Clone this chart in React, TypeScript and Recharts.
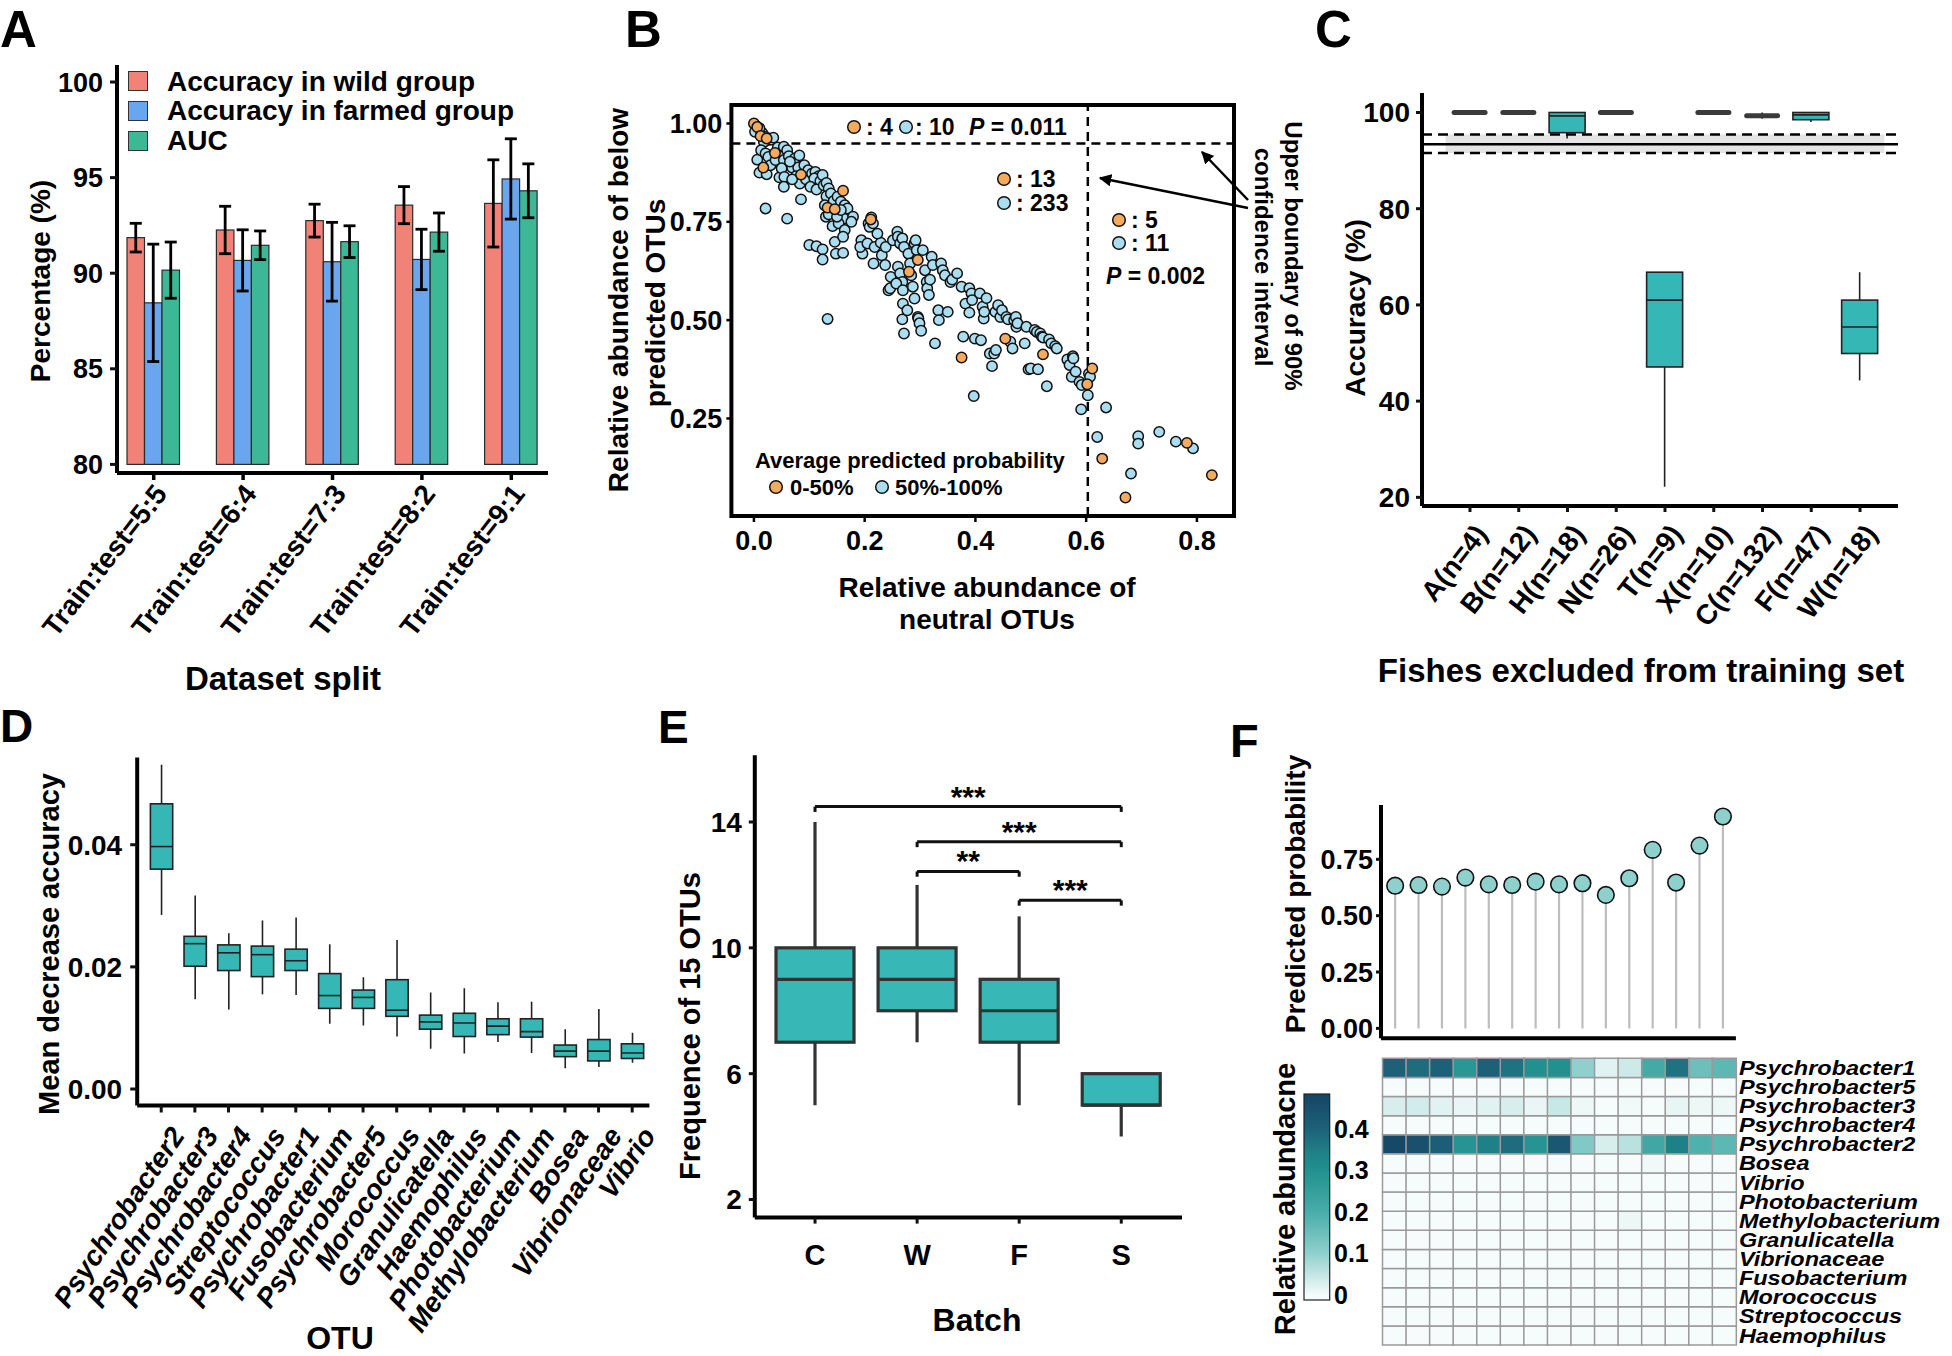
import React from 'react';
import {
  BarChart, Bar, XAxis, YAxis, ErrorBar, Legend, ScatterChart, Scatter,
  ReferenceLine, ReferenceArea, Cell,
} from 'recharts';

const FONT = "'Liberation Sans', Arial, Helvetica, sans-serif";
const TEAL = '#35B8B5';
const ORANGE = '#F4AB5E';
const SKY = '#AADDF0';

// ---------- A: accuracy per train/test split
const splits = ['Train:test=5:5', 'Train:test=6:4', 'Train:test=7:3', 'Train:test=8:2', 'Train:test=9:1'];
const seriesNames = ['Accuracy in wild group', 'Accuracy in farmed group', 'AUC'];
const wildAcc = [91.86, 92.26, 92.75, 93.56, 93.65];
const wildSd = [0.75, 1.24, 0.86, 0.97, 2.28];
const farmedAcc = [88.45, 90.67, 90.6, 90.72, 94.93];
const farmedSd = [3.07, 1.6, 2.06, 1.58, 2.1];
const aucValues = [90.16, 91.46, 91.65, 92.15, 94.31];
const aucSd = [1.47, 0.75, 0.83, 1.0, 1.41];
const percentTicks = [80, 85, 90, 95, 100];

// ---------- B: neutral vs below-predicted OTUs
const neutralTicks = [0, 0.2, 0.4, 0.6, 0.8];
const belowTicks = [0.25, 0.5, 0.75, 1.0];
const ciUpper = 0.949;
const neutralCut = 0.603;
// average predicted probability 0-50%
const lowProbOtus = [
  [0.0, 1.0], [0.006, 0.991], [0.012, 0.968], [0.023, 0.962], [0.038, 0.925], [0.017, 0.888],
  [0.085, 0.87], [0.161, 0.829], [0.133, 0.786], [0.146, 0.782], [0.211, 0.756], [0.296, 0.653],
  [0.28, 0.623], [0.454, 0.453], [0.375, 0.405], [0.522, 0.413], [0.611, 0.377], [0.602, 0.337],
  [0.629, 0.148], [0.671, 0.049], [0.782, 0.188], [0.827, 0.106],
];
// average predicted probability 50%-100%
const highProbOtus = [
  [0.004, 0.994], [0.008, 0.985], [0.002, 0.979], [0.015, 0.976], [0.021, 0.966], [0.026, 0.958],
  [0.032, 0.959], [0.035, 0.964], [0.01, 0.988], [0.018, 0.953], [0.006, 0.908], [0.013, 0.932],
  [0.021, 0.924], [0.026, 0.915], [0.01, 0.875], [0.023, 0.871], [0.03, 0.894], [0.039, 0.907],
  [0.046, 0.928], [0.046, 0.863], [0.021, 0.784], [0.043, 0.939],
  [0.054, 0.941], [0.06, 0.932], [0.054, 0.907], [0.063, 0.917], [0.069, 0.888], [0.05, 0.886],
  [0.055, 0.864], [0.054, 0.839], [0.06, 0.758], [0.074, 0.911], [0.082, 0.919], [0.08, 0.888],
  [0.076, 0.866], [0.083, 0.847], [0.085, 0.807], [0.091, 0.894], [0.094, 0.858], [0.098, 0.881],
  [0.1, 0.691], [0.069, 0.858], [0.065, 0.903],
  [0.105, 0.873], [0.111, 0.877], [0.117, 0.866], [0.109, 0.86], [0.12, 0.854], [0.124, 0.869],
  [0.102, 0.839], [0.113, 0.832], [0.126, 0.843], [0.131, 0.849], [0.135, 0.835], [0.131, 0.815],
  [0.139, 0.822], [0.113, 0.688], [0.124, 0.68], [0.124, 0.654], [0.133, 0.503], [0.128, 0.792],
  [0.13, 0.763], [0.144, 0.803], [0.146, 0.78], [0.142, 0.739], [0.146, 0.699], [0.148, 0.669],
  [0.135, 0.769],
  [0.151, 0.814], [0.157, 0.801], [0.164, 0.792], [0.169, 0.784], [0.163, 0.758], [0.153, 0.746],
  [0.164, 0.729], [0.161, 0.712], [0.161, 0.671], [0.15, 0.763], [0.157, 0.78], [0.179, 0.763],
  [0.176, 0.75], [0.194, 0.703], [0.196, 0.669], [0.192, 0.686],
  [0.207, 0.746], [0.209, 0.737], [0.212, 0.761], [0.215, 0.746], [0.216, 0.644], [0.205, 0.695],
  [0.218, 0.686], [0.229, 0.697], [0.231, 0.665], [0.223, 0.72], [0.238, 0.686], [0.243, 0.576],
  [0.246, 0.581], [0.247, 0.61], [0.237, 0.64], [0.251, 0.703],
  [0.259, 0.725], [0.26, 0.712], [0.264, 0.695], [0.268, 0.708], [0.271, 0.686], [0.26, 0.636],
  [0.264, 0.619], [0.268, 0.597], [0.257, 0.593], [0.269, 0.576], [0.269, 0.542], [0.268, 0.502],
  [0.271, 0.466], [0.277, 0.525], [0.279, 0.669], [0.282, 0.644], [0.284, 0.614], [0.287, 0.585],
  [0.29, 0.555], [0.29, 0.695], [0.292, 0.703], [0.296, 0.508], [0.297, 0.504], [0.299, 0.492],
  [0.302, 0.473], [0.294, 0.678],
  [0.305, 0.678], [0.309, 0.627], [0.312, 0.597], [0.313, 0.581], [0.318, 0.603], [0.321, 0.661],
  [0.323, 0.64], [0.316, 0.564], [0.327, 0.441], [0.333, 0.525], [0.334, 0.5], [0.338, 0.644],
  [0.341, 0.627], [0.345, 0.614], [0.35, 0.521],
  [0.355, 0.597], [0.358, 0.603], [0.367, 0.619], [0.375, 0.585], [0.378, 0.458], [0.382, 0.542],
  [0.389, 0.581], [0.393, 0.568], [0.389, 0.519], [0.394, 0.551], [0.397, 0.307], [0.399, 0.453],
  [0.408, 0.568], [0.413, 0.534], [0.415, 0.504], [0.416, 0.521], [0.41, 0.449], [0.42, 0.556],
  [0.426, 0.415], [0.43, 0.383], [0.434, 0.415], [0.436, 0.521], [0.437, 0.424], [0.441, 0.538],
  [0.445, 0.508], [0.448, 0.525],
  [0.456, 0.508], [0.459, 0.502], [0.463, 0.445], [0.467, 0.428], [0.47, 0.5], [0.473, 0.508],
  [0.474, 0.483], [0.476, 0.492], [0.489, 0.441], [0.492, 0.483], [0.496, 0.375], [0.5, 0.377],
  [0.507, 0.475], [0.511, 0.47], [0.513, 0.375], [0.517, 0.466], [0.52, 0.458], [0.522, 0.456],
  [0.529, 0.332], [0.533, 0.451], [0.537, 0.441], [0.544, 0.434], [0.547, 0.428],
  [0.566, 0.4], [0.57, 0.386], [0.576, 0.408], [0.577, 0.403], [0.574, 0.356], [0.581, 0.369],
  [0.588, 0.343], [0.591, 0.273], [0.592, 0.335], [0.603, 0.309], [0.605, 0.364], [0.607, 0.356],
  [0.62, 0.203], [0.636, 0.278],
  [0.681, 0.11], [0.694, 0.205], [0.694, 0.186], [0.732, 0.216], [0.762, 0.191], [0.793, 0.174],
];

// ---------- C: leave-one-fish-out accuracy
const fishGroups = ['A(n=4)', 'B(n=12)', 'H(n=18)', 'N(n=26)', 'T(n=9)', 'X(n=10)', 'C(n=132)', 'F(n=47)', 'W(n=18)'];
const fishMin = [100, 100, 94.6, 100, 22.2, 100, 98.7, 98.0, 44.3];
const fishQ1 = [100, 100, 95.8, 100, 47.1, 100, 99.0, 98.5, 49.9];
const fishMedian = [100, 100, 99.3, 100, 61.0, 100, 99.3, 99.5, 55.4];
const fishQ3 = [100, 100, 100, 100, 66.8, 100, 99.6, 100, 61.0];
const fishMax = [100, 100, 100, 100, 66.8, 100, 100, 100, 66.8];
const accuracyTicks = [20, 40, 60, 80, 100];
const overallAcc = 93.4;
const overallLow = 91.6;
const overallHigh = 95.4;

// ---------- D: importance of 15 OTUs
const otuNames = ['Psychrobacter2', 'Psychrobacter3', 'Psychrobacter4', 'Streptococcus', 'Psychrobacter1', 'Fusobacterium', 'Psychrobacter5', 'Morococcus', 'Granulicatella', 'Haemophilus', 'Photobacterium', 'Methylobacterium', 'Bosea', 'Vibrionaceae', 'Vibrio'];
const mdaMin = [0.0285, 0.0147, 0.013, 0.0155, 0.0154, 0.0107, 0.0104, 0.0086, 0.0066, 0.0058, 0.0077, 0.0059, 0.0034, 0.0036, 0.0043];
const mdaQ1 = [0.036, 0.0201, 0.0194, 0.0184, 0.0194, 0.0132, 0.0132, 0.0119, 0.0098, 0.0086, 0.0089, 0.0085, 0.0053, 0.0046, 0.005];
const mdaMedian = [0.0397, 0.0238, 0.0223, 0.022, 0.021, 0.0153, 0.015, 0.0129, 0.011, 0.0108, 0.0103, 0.0094, 0.0062, 0.0062, 0.0059];
const mdaQ3 = [0.0467, 0.025, 0.0236, 0.0234, 0.0229, 0.0189, 0.0162, 0.0179, 0.0121, 0.0124, 0.0115, 0.0115, 0.0072, 0.0081, 0.0074];
const mdaMax = [0.0531, 0.0317, 0.0255, 0.0276, 0.0281, 0.0237, 0.0183, 0.0244, 0.0158, 0.0165, 0.0142, 0.0143, 0.0098, 0.0131, 0.0092];
const mdaTicks = [0, 0.02, 0.04];

// ---------- E: frequency of the 15 OTUs per batch
const batches = ['C', 'W', 'F', 'S'];
const freqMin = [5, 7, 5, 4];
const freqQ1 = [7, 8, 7, 5];
const freqMedian = [9, 9, 8, 5];
const freqQ3 = [10, 10, 9, 6];
const freqMax = [14, 12, 11, 6];
const freqTicks = [2, 6, 10, 14];
const comparisons: [string, string, number, string][] = [
  ['C', 'S', 14.49, '***'],
  ['W', 'S', 13.37, '***'],
  ['W', 'F', 12.43, '**'],
  ['F', 'S', 11.51, '***'],
];

// ---------- F: predicted probability and abundance of 15 samples
const samples = ['s1', 's2', 's3', 's4', 's5', 's6', 's7', 's8', 's9', 's10', 's11', 's12', 's13', 's14', 's15'];
const predictedProb = [0.633, 0.636, 0.629, 0.669, 0.639, 0.636, 0.651, 0.639, 0.644, 0.592, 0.666, 0.792, 0.647, 0.811, 0.94];
const probTicks = [0, 0.25, 0.5, 0.75];
const abundPsychrobacter1 = [0.4, 0.38, 0.4, 0.28, 0.4, 0.37, 0.3, 0.3, 0.1, 0.02, 0.04, 0.21, 0.37, 0.15, 0.17];
const abundPsychrobacter2 = [0.47, 0.45, 0.41, 0.29, 0.34, 0.38, 0.29, 0.43, 0.12, 0.03, 0.06, 0.22, 0.34, 0.19, 0.17];
const abundPsychrobacter3 = [0.03, 0.035, 0.02, 0.012, 0.02, 0.03, 0.012, 0.045, 0.008, 0, 0.005, 0, 0.015, 0.01, 0.008];
const abundBosea = [0, 0, 0, 0, 0, 0, 0, 0, 0, 0, 0, 0.006, 0, 0, 0];
const abundMethylobacterium = [0, 0, 0, 0, 0, 0, 0, 0, 0, 0, 0.01, 0, 0, 0, 0];
const abundNone = [0, 0, 0, 0, 0, 0, 0, 0, 0, 0, 0, 0, 0, 0, 0];
const heatOtus = ['Psychrobacter1', 'Psychrobacter5', 'Psychrobacter3', 'Psychrobacter4', 'Psychrobacter2', 'Bosea', 'Vibrio', 'Photobacterium', 'Methylobacterium', 'Granulicatella', 'Vibrionaceae', 'Fusobacterium', 'Morococcus', 'Streptococcus', 'Haemophilus'];
const heatAbund = [abundPsychrobacter1, abundNone, abundPsychrobacter3, abundNone, abundPsychrobacter2, abundBosea, abundNone, abundNone, abundMethylobacterium, abundNone, abundNone, abundNone, abundNone, abundNone, abundNone];
const abundTicks = [0, 0.1, 0.2, 0.3, 0.4];

const HEAT_STOPS: [number, string][] = [
  [0, '#f6fbfb'], [0.1, '#8fd0cd'], [0.2, '#48ada9'], [0.3, '#21918f'],
  [0.35, '#1f7d86'], [0.4, '#1d6179'], [0.48, '#154665'],
];
function heatColor(v: number) {
  const hex = (c: string) => [1, 3, 5].map((i) => parseInt(c.slice(i, i + 2), 16));
  if (v <= HEAT_STOPS[0][0]) return HEAT_STOPS[0][1];
  for (let i = 1; i < HEAT_STOPS.length; i++) {
    const [v1, c1] = HEAT_STOPS[i];
    if (v <= v1) {
      const [v0, c0] = HEAT_STOPS[i - 1];
      const t = (v - v0) / (v1 - v0);
      const a = hex(c0), b = hex(c1);
      return `rgb(${a.map((x, k) => Math.round(x + (b[k] - x) * t)).join(',')})`;
    }
  }
  return HEAT_STOPS[HEAT_STOPS.length - 1][1];
}

const tickFont = (size: number, italic = false) => ({
  fontSize: size, fontWeight: 700, fill: '#000', fontFamily: FONT, fontStyle: italic ? 'italic' : 'normal',
});
const axisLine = { stroke: '#000', strokeWidth: 4 };
const tickLine = { stroke: '#111', strokeWidth: 3 };

function SlantTick(props: any) {
  const { x, y, payload, angle, size, dx, dy, italic } = props;
  const ax = x + dx;
  const ay = y + dy;
  return (
    <text x={ax} y={ay} transform={`rotate(${-angle} ${ax} ${ay})`} textAnchor="end" dominantBaseline="hanging"
      fontSize={size} fontWeight={700} fontStyle={italic ? 'italic' : 'normal'} fontFamily={FONT} fill="#000">
      {payload.value}
    </text>
  );
}

// row names of the heatmap are set wide and short, as in the figure
function RowTick(props: any) {
  const { x, y, payload, tickFormatter } = props;
  const label = tickFormatter ? tickFormatter(payload.value) : payload.value;
  return (
    <g transform={`translate(${x + 3} ${y})`}>
      <text transform="scale(1.12 1)" dominantBaseline="central" fontSize={21} fontWeight={700} fontStyle="italic" fontFamily={FONT} fill="#000">
        {label}
      </text>
    </g>
  );
}

// box + whiskers drawn inside the [min, max] range bar given by the library
function boxShape(fill: string, stroke: string, lineW: number, whiskerW: number) {
  return (props: any) => {
    const { x, y, width, height, payload } = props;
    if (x == null || payload == null) return <g />;
    const top = Math.min(y, y + height);
    const span = Math.abs(height);
    const lo = payload.min;
    const hi = payload.max;
    const px = (v: number) => (hi === lo ? top : top + ((hi - v) / (hi - lo)) * span);
    const cx = x + width / 2;
    const yMax = px(hi), yMin = px(lo), yQ3 = px(payload.q3), yQ1 = px(payload.q1), yMed = px(payload.med);
    const flat = yQ1 - yQ3 < 3;
    return (
      <g>
        {yQ3 - yMax > 0.5 && <line x1={cx} x2={cx} y1={yMax} y2={yQ3} stroke={stroke} strokeWidth={whiskerW} />}
        {yMin - yQ1 > 0.5 && <line x1={cx} x2={cx} y1={yQ1} y2={yMin} stroke={stroke} strokeWidth={whiskerW} />}
        {flat ? (
          <rect x={x} y={yMed - 2.5} width={width} height={5} rx={2.5} fill="#3a3a3a" />
        ) : (
          <g>
            <rect x={x} y={yQ3} width={width} height={yQ1 - yQ3} fill={fill} stroke={stroke} strokeWidth={lineW} />
            <line x1={x} x2={x + width} y1={yMed} y2={yMed} stroke={stroke} strokeWidth={lineW} />
          </g>
        )}
      </g>
    );
  };
}

const boxRange = (d: any) => [d.min, d.max];

// ---------------- Panel A
const A_DOMAIN: [number, number] = [79.55, 100.89];
const A_BASE = 80;
const splitTable = splits.map((split, i) => ({
  split, wild: wildAcc[i], wildSd: wildSd[i], farmed: farmedAcc[i], farmedSd: farmedSd[i], auc: aucValues[i], aucSd: aucSd[i],
}));
function fromBase(props: any) {
  const { x, y, width, height, value, fill } = props;
  const v = Array.isArray(value) ? value[1] : value;
  const k = height / (v - A_DOMAIN[0]);
  const h = height - (A_BASE - A_DOMAIN[0]) * k;
  return <rect x={x} y={y} width={width} height={Math.max(h, 0)} fill={fill} stroke="#2b2b2b" strokeWidth={1.2} />;
}
function PanelA() {
  return (
    <div style={{ position: 'absolute', left: 0, top: 0 }}>
      <BarChart width={640} height={700} data={splitTable} margin={{ top: 65, right: 92, bottom: 0, left: 0 }} barGap={0} barSize={17.5}>
        <XAxis dataKey="split" height={227} padding={{ left: -8, right: -8 }} axisLine={axisLine} tickLine={{ stroke: '#000', strokeWidth: 3.5 }}
          tickSize={7} tickMargin={0} interval={0}
          tick={(p: any) => <SlantTick {...p} angle={52} size={28} dx={-1} dy={2} />} />
        <YAxis width={117} domain={A_DOMAIN} ticks={percentTicks} allowDataOverflow axisLine={axisLine} tickLine={tickLine}
          tickSize={7} tickMargin={7} tick={tickFont(27)} />
        <Legend layout="vertical" align="center" verticalAlign="middle"
          wrapperStyle={{ left: 128, top: 66.6, width: 420 }}
          content={(p: any) => (
            <div>
              {[...(p.payload || [])]
                .sort((a: any, b: any) => seriesNames.indexOf(a.value) - seriesNames.indexOf(b.value))
                .map((e: any) => (
                  <div key={e.value} style={{ display: 'flex', alignItems: 'center', height: 29.7 }}>
                    <span style={{ width: 20, height: 20, background: e.color, border: '1.5px solid #333', boxSizing: 'border-box', marginRight: 19 }} />
                    <span style={{ fontSize: 28, fontWeight: 700, fontFamily: FONT, lineHeight: '29.7px', whiteSpace: 'nowrap', color: '#000' }}>{e.value}</span>
                  </div>
                ))}
            </div>
          )} />
        <Bar dataKey="wild" name={seriesNames[0]} fill="#F08278" shape={fromBase} isAnimationActive={false}>
          <ErrorBar dataKey="wildSd" width={6} strokeWidth={2.8} stroke="#000" />
        </Bar>
        <Bar dataKey="farmed" name={seriesNames[1]} fill="#6AA6EE" shape={fromBase} isAnimationActive={false}>
          <ErrorBar dataKey="farmedSd" width={6} strokeWidth={2.8} stroke="#000" />
        </Bar>
        <Bar dataKey="auc" name={seriesNames[2]} fill="#3DB896" shape={fromBase} isAnimationActive={false}>
          <ErrorBar dataKey="aucSd" width={6} strokeWidth={2.8} stroke="#000" />
        </Bar>
      </BarChart>
    </div>
  );
}

// ---------------- Panel B
const B_XDOM: [number, number] = [-0.0407, 0.867];
const B_YDOM: [number, number] = [0.002, 1.047];
const lowTable = lowProbOtus.map(([x, y]) => ({ x, y }));
const highTable = highProbOtus.map(([x, y]) => ({ x, y }));
const dot = (fill: string) => (p: any) => <circle cx={p.cx} cy={p.cy} r={5.2} fill={fill} stroke="#111" strokeWidth={1.5} />;
function PanelB() {
  return (
    <div style={{ position: 'absolute', left: 600, top: 90 }}>
      <ScatterChart width={660} height={560} margin={{ top: 15, right: 26, bottom: 0, left: 0 }}>
        <XAxis type="number" dataKey="x" domain={B_XDOM} ticks={neutralTicks} allowDataOverflow height={134}
          tickFormatter={(v: number) => v.toFixed(1)} axisLine={false} tickLine={{ stroke: '#000', strokeWidth: 2.5 }}
          tickSize={6} tickMargin={9} tick={tickFont(27)} />
        <YAxis type="number" dataKey="y" domain={B_YDOM} ticks={belowTicks} allowDataOverflow width={131.4}
          tickFormatter={(v: number) => v.toFixed(2)} axisLine={false} tickLine={{ stroke: '#000', strokeWidth: 2.5 }}
          tickSize={5} tickMargin={4} tick={tickFont(27)} />
        <ReferenceLine y={ciUpper} stroke="#000" strokeWidth={2.5} strokeDasharray="9 6" />
        <ReferenceLine x={neutralCut} stroke="#000" strokeWidth={2.5} strokeDasharray="9 6" />
        <Scatter data={highTable} shape={dot(SKY)} isAnimationActive={false} />
        <Scatter data={lowTable} shape={dot(ORANGE)} isAnimationActive={false} />
        <ReferenceArea x1={B_XDOM[0]} x2={B_XDOM[1]} y1={B_YDOM[0]} y2={B_YDOM[1]} fill="none" fillOpacity={0} stroke="#000" strokeWidth={4} />
      </ScatterChart>
    </div>
  );
}

// ---------------- Panel C
const fishTable = fishGroups.map((g, i) => ({ g, min: fishMin[i], q1: fishQ1[i], med: fishMedian[i], q3: fishQ3[i], max: fishMax[i] }));
function PanelC() {
  return (
    <div style={{ position: 'absolute', left: 1305, top: 60 }}>
      <BarChart width={640} height={680} data={fishTable} margin={{ top: 33, right: 47, bottom: 0, left: 0 }} barSize={36}>
        <XAxis dataKey="g" height={234} padding={{ left: 23.6, right: 13.6 }} axisLine={axisLine} tickLine={tickLine}
          tickSize={6} tickMargin={0} interval={0}
          tick={(p: any) => <SlantTick {...p} angle={52} size={28} dx={3} dy={10} />} />
        <YAxis width={117} domain={[18.2, 104.05]} ticks={accuracyTicks} allowDataOverflow axisLine={axisLine} tickLine={tickLine}
          tickSize={6} tickMargin={6} tick={tickFont(28)} />
        <ReferenceArea y1={overallLow} y2={overallHigh} fill="#e4e4e4" fillOpacity={1} stroke="none" />
        <ReferenceLine y={overallAcc} stroke="#000" strokeWidth={2.5} />
        <ReferenceLine y={overallHigh} stroke="#000" strokeWidth={2.5} strokeDasharray="10 6" />
        <ReferenceLine y={overallLow} stroke="#000" strokeWidth={2.5} strokeDasharray="10 6" />
        <Bar dataKey={boxRange} shape={boxShape(TEAL, '#222', 1.6, 1.6)} isAnimationActive={false} />
      </BarChart>
    </div>
  );
}

// ---------------- Panel D
const otuTable = otuNames.map((g, i) => ({ g, min: mdaMin[i], q1: mdaQ1[i], med: mdaMedian[i], q3: mdaQ3[i], max: mdaMax[i] }));
function PanelD() {
  return (
    <div style={{ position: 'absolute', left: 0, top: 700 }}>
      <BarChart width={670} height={656} data={otuTable} margin={{ top: 57.4, right: 20.6, bottom: 0, left: 0 }} barSize={22.3}>
        <XAxis dataKey="g" height={250.5} padding={{ left: 7.2, right: 0.4 }} axisLine={axisLine} tickLine={tickLine}
          tickSize={7} tickMargin={0} interval={0}
          tick={(p: any) => <SlantTick {...p} angle={56} size={28} dx={8} dy={12} italic />} />
        <YAxis width={137.2} domain={[-0.0027, 0.0543]} ticks={mdaTicks} allowDataOverflow axisLine={axisLine} tickLine={tickLine}
          tickSize={7} tickMargin={8} tick={tickFont(28)} tickFormatter={(v: number) => v.toFixed(2)} />
        <Bar dataKey={boxRange} shape={boxShape(TEAL, '#222', 1.6, 1.6)} isAnimationActive={false} />
      </BarChart>
    </div>
  );
}

// ---------------- Panel E
const batchTable = batches.map((g, i) => ({ g, min: freqMin[i], q1: freqQ1[i], med: freqMedian[i], q3: freqQ3[i], max: freqMax[i] }));
const TIP = 0.17;
function PanelE() {
  return (
    <div style={{ position: 'absolute', left: 660, top: 700 }}>
      <BarChart width={540} height={656} data={batchTable} margin={{ top: 55.3, right: 18, bottom: 0, left: 0 }} barSize={78}>
        <XAxis dataKey="g" height={138.4} padding={{ left: 9.2, right: 9.7 }} axisLine={axisLine} tickLine={tickLine}
          tickSize={6} tickMargin={21} tick={tickFont(29)} interval={0} />
        <YAxis width={94.8} domain={[1.425, 16.12]} ticks={freqTicks} allowDataOverflow axisLine={axisLine} tickLine={tickLine}
          tickSize={6} tickMargin={7} tick={tickFont(28)} />
        <Bar dataKey={boxRange} shape={boxShape('#37B8B7', '#333', 3.2, 3.2)} isAnimationActive={false} />
        {comparisons.map(([a, b, h, stars]) => (
          <ReferenceLine key={a + b} segment={[{ x: a, y: h }, { x: b, y: h }]} stroke="#111" strokeWidth={3}
            label={{ value: stars, position: 'top', offset: 0, fontSize: 30, fontWeight: 700, fill: '#000', fontFamily: FONT }} />
        ))}
        {comparisons.map(([a, , h]) => (
          <ReferenceLine key={'l' + a + h} segment={[{ x: a, y: h }, { x: a, y: h - TIP }]} stroke="#111" strokeWidth={3} />
        ))}
        {comparisons.map(([, b, h]) => (
          <ReferenceLine key={'r' + b + h} segment={[{ x: b, y: h }, { x: b, y: h - TIP }]} stroke="#111" strokeWidth={3} />
        ))}
      </BarChart>
    </div>
  );
}

// ---------------- Panel F
const probTable = samples.map((s, i) => ({ s, p: predictedProb[i] }));
function lollipop(props: any) {
  const { x, y, width, height } = props;
  const cx = x + width / 2;
  return (
    <g>
      <line x1={cx} x2={cx} y1={y} y2={y + height} stroke="#bdbdbd" strokeWidth={2.2} />
      <circle cx={cx} cy={y} r={8.3} fill="#8ED0CC" stroke="#111" strokeWidth={1.6} />
    </g>
  );
}
function PanelFTop() {
  return (
    <div style={{ position: 'absolute', left: 1220, top: 720 }}>
      <BarChart width={730} height={330} data={probTable} margin={{ top: 85, right: 214.1, bottom: 0, left: 0 }}>
        <XAxis dataKey="s" height={11.7} padding={{ left: 2.3, right: 1.4 }} axisLine={axisLine}
          tickLine={{ stroke: '#000', strokeWidth: 2.5 }} tickSize={6} tick={false} interval={0} />
        <YAxis width={161} domain={[-0.044, 0.991]} ticks={probTicks} allowDataOverflow axisLine={axisLine} tickLine={tickLine}
          tickSize={5} tickMargin={3} tick={tickFont(27)} tickFormatter={(v: number) => v.toFixed(2)} />
        <Bar dataKey="p" shape={lollipop} isAnimationActive={false} />
      </BarChart>
    </div>
  );
}

const bottomUp = [...heatOtus].reverse();
const heatTable = samples.map((s) => {
  const row: any = { s };
  heatOtus.forEach((o) => { row[o] = 1; });
  return row;
});
function PanelFHeat() {
  return (
    <div style={{ position: 'absolute', left: 1220, top: 1050 }}>
      <BarChart width={732} height={306} data={heatTable} margin={{ top: 8.3, right: 0, bottom: 11, left: 162.5 }} barCategoryGap={0} barGap={0}>
        <XAxis dataKey="s" hide />
        <YAxis orientation="right" type="number" domain={[0, 15]} ticks={bottomUp.map((_, i) => i + 0.5)} width={216.1}
          tickFormatter={(v: number) => bottomUp[Math.floor(v)]} axisLine={false} tickLine={false} tickSize={0} tickMargin={0}
          tick={(p: any) => <RowTick {...p} />} interval={0} />
        {bottomUp.map((otu) => {
          const r = heatOtus.indexOf(otu);
          return (
            <Bar key={otu} dataKey={otu} stackId="heat" stroke="#9a9a9a" strokeWidth={1.5} isAnimationActive={false}>
              {samples.map((s, j) => <Cell key={s} fill={heatColor(heatAbund[r][j])} />)}
            </Bar>
          );
        })}
      </BarChart>
    </div>
  );
}

// ---------------- titles, panel letters and annotations
function T(props: any) {
  const { x, y, size, rotate = 0, anchor = 'middle', italic = false, children } = props;
  return (
    <text x={x} y={y} fontSize={size} fontWeight={700} fontStyle={italic ? 'italic' : 'normal'} textAnchor={anchor}
      dominantBaseline="central" transform={rotate ? `rotate(${rotate} ${x} ${y})` : undefined} fill="#000">
      {children}
    </text>
  );
}
function Letter({ x, y, size, children }: any) {
  return <text x={x} y={y} fontSize={size} fontWeight={700} fill="#000">{children}</text>;
}
function Key({ x, y, fill }: any) {
  return <circle cx={x} cy={y} r={6.3} fill={fill} stroke="#111" strokeWidth={1.5} />;
}

const CB_TOP = 0.483;
const CB_BOTTOM = -0.012;
const CB_Y0 = 1094;
const CB_H = 206;
const cbY = (v: number) => CB_Y0 + ((CB_TOP - v) / (CB_TOP - CB_BOTTOM)) * CB_H;

function Overlay() {
  return (
    <svg width={1952} height={1356} style={{ position: 'absolute', left: 0, top: 0, pointerEvents: 'none' }} fontFamily={FONT}>
      <defs>
        <marker id="arrowHead" viewBox="0 0 10 10" refX="9" refY="5" markerWidth="5" markerHeight="5" orient="auto">
          <path d="M0,0 L10,5 L0,10 z" fill="#000" />
        </marker>
        <linearGradient id="heatGrad" x1="0" y1="0" x2="0" y2="1">
          {[...HEAT_STOPS].reverse().map(([v, c]) => (
            <stop key={v} offset={(CB_TOP - v) / (CB_TOP - CB_BOTTOM)} stopColor={c} />
          ))}
        </linearGradient>
      </defs>

      <Letter x={0} y={47} size={51}>A</Letter>
      <Letter x={625} y={47} size={51}>B</Letter>
      <Letter x={1315} y={47} size={51}>C</Letter>
      <Letter x={0} y={742} size={46}>D</Letter>
      <Letter x={658} y={743} size={46}>E</Letter>
      <Letter x={1230} y={757} size={47}>F</Letter>

      {/* A */}
      <T x={40} y={281} size={28} rotate={-90}>Percentage (%)</T>
      <T x={283} y={678} size={33}>Dataset split</T>

      {/* B */}
      <T x={618} y={300} size={28} rotate={-90}>Relative abundance of below</T>
      <T x={655} y={303} size={28} rotate={-90}>predicted OTUs</T>
      <T x={987} y={587} size={28}>Relative abundance of</T>
      <T x={987} y={619} size={28}>neutral OTUs</T>
      <T x={1293} y={256} size={24} rotate={90}>Upper boundary of 90%</T>
      <T x={1263} y={257} size={24} rotate={90}>confidence interval</T>
      <line x1={1248} y1={208} x2={1100} y2={178} stroke="#000" strokeWidth={2.5} markerEnd="url(#arrowHead)" />
      <line x1={1248} y1={200} x2={1202} y2={152} stroke="#000" strokeWidth={2.5} markerEnd="url(#arrowHead)" />
      <Key x={854} y={127} fill={ORANGE} />
      <T x={866} y={127} size={23} anchor="start">: 4</T>
      <Key x={906} y={127} fill={SKY} />
      <T x={915} y={127} size={23} anchor="start">: 10</T>
      <T x={969} y={127} size={23} anchor="start"><tspan fontStyle="italic">P</tspan> = 0.011</T>
      <Key x={1004} y={179} fill={ORANGE} />
      <T x={1016} y={179} size={23} anchor="start">: 13</T>
      <Key x={1004} y={203} fill={SKY} />
      <T x={1016} y={203} size={23} anchor="start">: 233</T>
      <Key x={1119} y={220} fill={ORANGE} />
      <T x={1131} y={220} size={23} anchor="start">: 5</T>
      <Key x={1119} y={243} fill={SKY} />
      <T x={1131} y={243} size={23} anchor="start">: 11</T>
      <T x={1106} y={276} size={23} anchor="start"><tspan fontStyle="italic">P</tspan> = 0.002</T>
      <T x={755} y={460} size={22} anchor="start">Average predicted probability</T>
      <Key x={776} y={487} fill={ORANGE} />
      <T x={790} y={487} size={22} anchor="start">0-50%</T>
      <Key x={882} y={487} fill={SKY} />
      <T x={895} y={487} size={22} anchor="start">50%-100%</T>

      {/* C */}
      <T x={1355} y={308} size={28} rotate={-90}>Accuracy (%)</T>
      <T x={1641} y={670} size={33}>Fishes excluded from training set</T>

      {/* D */}
      <T x={49} y={944} size={29} rotate={-90}>Mean decrease accuracy</T>
      <T x={340} y={1338} size={32}>OTU</T>

      {/* E */}
      <T x={690} y={1026} size={29} rotate={-90}>Frequence of 15 OTUs</T>
      <T x={977} y={1320} size={32}>Batch</T>

      {/* F */}
      <T x={1295} y={894} size={28} rotate={-90}>Predicted probability</T>
      <T x={1285} y={1199} size={29} rotate={-90}>Relative abundacne</T>
      <rect x={1304} y={CB_Y0} width={25.7} height={CB_H} fill="url(#heatGrad)" stroke="#222" strokeWidth={1.2} />
      {abundTicks.map((v) => (
        <T key={v} x={1334} y={cbY(v)} size={25} anchor="start">{v === 0 ? '0' : v.toFixed(1)}</T>
      ))}
    </svg>
  );
}

export default function App() {
  return (
    <div style={{ position: 'absolute', left: 0, top: 0, width: 1952, height: 1356, background: '#fff', overflow: 'hidden', fontFamily: FONT }}>
      <PanelA />
      <PanelB />
      <PanelC />
      <PanelD />
      <PanelE />
      <PanelFTop />
      <PanelFHeat />
      <Overlay />
    </div>
  );
}
